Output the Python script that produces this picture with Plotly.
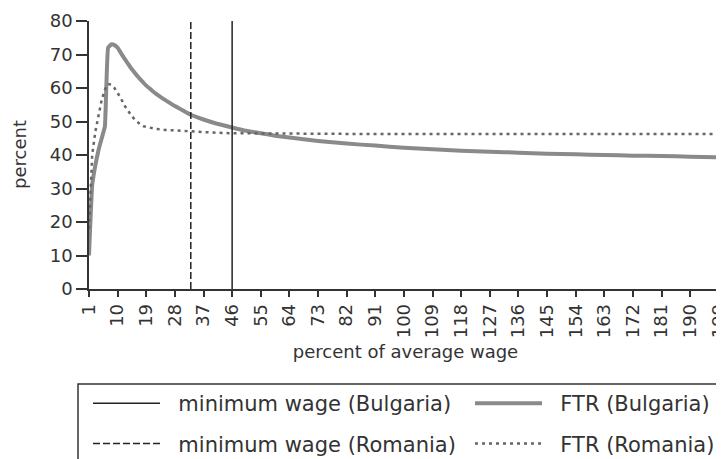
import plotly.graph_objects as go

# ---- data ----
ftr_bg_x = [1, 2, 3, 4, 5, 6, 7, 8, 9, 10, 11, 12, 13, 14, 15, 16, 17, 18, 19, 20,
            22, 24, 26, 28, 30, 33, 37, 41, 46, 50, 55, 60, 64, 73, 82, 91, 100,
            109, 118, 127, 136, 145, 154, 163, 172, 181, 190, 199]
ftr_bg_y = [10, 31, 37, 41.5, 45, 48.5, 72, 73, 72.8, 72, 70.5, 69, 67.6, 66.2, 65,
            63.8, 62.7, 61.7, 60.7, 59.9, 58.3, 57, 55.8, 54.6, 53.6, 52, 50.6, 49.4,
            48.2, 47.3, 46.5, 45.7, 45.2, 44.2, 43.4, 42.8, 42.2, 41.7, 41.3, 41.0,
            40.7, 40.4, 40.2, 40.0, 39.8, 39.7, 39.5, 39.3]

ftr_ro_x = [1, 2, 3, 4, 5, 6, 7, 8, 9, 10, 11, 12, 13, 14, 15, 16, 17, 18, 20, 22,
            25, 28, 33, 40, 46, 55, 64, 73, 82, 91, 100, 109, 118, 127, 136, 145,
            154, 163, 172, 181, 190, 199]
ftr_ro_y = [18, 40, 47, 52, 56.5, 59.5, 61.2, 61, 60, 58.5, 57, 55, 53.5, 52.2, 51,
            50, 49.2, 48.6, 48.1, 47.8, 47.5, 47.3, 47.0, 46.7, 46.5, 46.4, 46.3,
            46.3, 46.3, 46.3, 46.3, 46.3, 46.3, 46.3, 46.3, 46.4, 46.4, 46.4, 46.3,
            46.3, 46.3, 46.3]

minwage_bg = 46
minwage_ro = 33
y_span = [0, 80]

x_ticks = list(range(1, 200, 9))
y_ticks = list(range(0, 81, 10))

x_title = "percent of average wage"
y_title = "percent"

FONT = "DejaVu Sans"
TXT = "#333333"
NB = "\u00a0\u00a0"

# page body has an 8px margin: figure pixel = screen pixel - 8
OFF = 8
W, H = 724, 459
ML, MR, MT, MB = 89 - OFF, 10, 21 - OFF, 178
PW, PH = W - ML - MR, H - MT - MB


def px_x(p):  # screen px -> paper x
    return (p - OFF - ML) / PW


def px_y(p):  # screen px -> paper y
    return (H - MB - (p - OFF)) / PH


def cx(p):  # screen px -> container x
    return (p - OFF) / W


def cy(p):  # screen px -> container y
    return 1 - (p - OFF) / H


fig = go.Figure()

fig.add_trace(go.Scatter(
    x=ftr_bg_x, y=ftr_bg_y, mode="lines", name=NB + "FTR (Bulgaria)",
    line=dict(color="#8a8a8a", width=4, shape="spline", smoothing=0.3),
    legend="legend2", legendgroup="c", legendrank=1))
fig.add_trace(go.Scatter(
    x=ftr_ro_x, y=ftr_ro_y, mode="lines", name=NB + "FTR (Romania)",
    line=dict(color="#666666", width=2.5, dash="3px,4px"),
    legend="legend2", legendgroup="d", legendrank=2))
fig.add_trace(go.Scatter(
    x=[minwage_bg, minwage_bg], y=y_span, mode="lines",
    name=NB + "minimum wage (Bulgaria)",
    line=dict(color="#222222", width=1.5),
    legend="legend", legendgroup="a", legendrank=1))
fig.add_trace(go.Scatter(
    x=[minwage_ro, minwage_ro], y=y_span, mode="lines",
    name=NB + "minimum wage (Romania)",
    line=dict(color="#222222", width=1.5, dash="7px,3px"),
    legend="legend", legendgroup="b", legendrank=2))

legend_common = dict(
    orientation="v", xref="container", yref="container",
    xanchor="left", yanchor="top", bgcolor="rgba(0,0,0,0)", borderwidth=0,
    font=dict(family=FONT, size=21, color=TXT), itemwidth=67,
    tracegroupgap=10, traceorder="grouped")

fig.update_layout(
    width=W, height=H,
    margin=dict(l=ML, r=MR, t=MT, b=MB, autoexpand=False),
    paper_bgcolor="white", plot_bgcolor="white",
    font=dict(family=FONT, size=18, color=TXT),
    showlegend=True,
    legend=dict(x=cx(88), y=cy(383), **legend_common),
    legend2=dict(x=cx(470), y=cy(383), **legend_common),
    xaxis=dict(
        range=[1, 200], tickmode="array", tickvals=x_ticks,
        ticktext=[str(v) for v in x_ticks], tickangle=-90,
        ticks="outside", ticklen=6, tickwidth=1.5, tickcolor="#333",
        showline=True, linecolor="#333", linewidth=1.5,
        showgrid=False, zeroline=False, automargin=False,
        tickfont=dict(family=FONT, size=18, color=TXT),
        title=dict(text=x_title, standoff=8,
                   font=dict(family=FONT, size=18, color=TXT)),
    ),
    yaxis=dict(
        range=[0, 80], tickmode="array", tickvals=y_ticks,
        ticks="outside", ticklen=11, tickwidth=1.5, tickcolor="#333",
        showline=True, linecolor="#333", linewidth=1.5,
        showgrid=False, zeroline=False, automargin=False,
        tickfont=dict(family=FONT, size=18, color=TXT),
    ),
    annotations=[dict(text=y_title, xref="paper", yref="paper",
                      x=px_x(19), y=px_y(155), textangle=-90,
                      xanchor="center", yanchor="middle", showarrow=False,
                      font=dict(family=FONT, size=18, color=TXT))],
    shapes=[dict(type="rect", xref="paper", yref="paper",
                 x0=px_x(78), x1=px_x(719), y0=px_y(384), y1=px_y(480),
                 line=dict(color="#333", width=1.5), fillcolor="rgba(0,0,0,0)",
                 layer="above")],
)

fig.write_html("out.html")
